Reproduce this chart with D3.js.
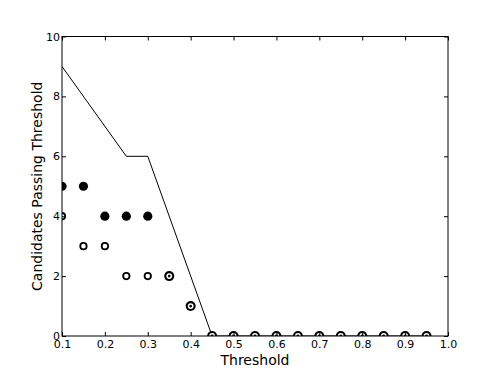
<!DOCTYPE html>
<html><head><meta charset="utf-8">
<script src="https://cdn.jsdelivr.net/npm/d3@7/dist/d3.min.js"></script>
<style>body{margin:0;background:#fff}svg{display:block}text{font-family:"DejaVu Sans",sans-serif}</style>
</head><body><svg id="c" width="498" height="374"></svg>
<script>
const thresholds = [0.1,0.15,0.2,0.25,0.3,0.35,0.4,0.45,0.5,0.55,0.6,0.65,0.7,0.75,0.8,0.85,0.9,0.95];
const filledValues = [5,5,4,4,4,2,1,0,0,0,0,0,0,0,0,0,0,0];
const openValues   = [4,3,3,2,2,2,1,0,0,0,0,0,0,0,0,0,0,0];
const lineX = [0.1,0.25,0.3,0.45,0.95];
const lineY = [9,6,6,0,0];
const xTicks = [0.1,0.2,0.3,0.4,0.5,0.6,0.7,0.8,0.9,1.0];
const yTicks = [0,2,4,6,8,10];

const L=62,R=448,T=36.5,B=336;
const svg=d3.select("#c");
const x=d3.scaleLinear().domain([0.1,1.0]).range([L,R]);
const y=d3.scaleLinear().domain([0,10]).range([B,T]);

svg.append("clipPath").attr("id","clip").append("rect").attr("x",L).attr("y",T).attr("width",R-L).attr("height",B-T);
const g=svg.append("g").attr("clip-path","url(#clip)");

const line=d3.line().x(d=>x(d[0])).y(d=>y(d[1]));
g.append("path").datum(lineX.map((v,i)=>[v,lineY[i]])).attr("d",line).attr("fill","none").attr("stroke","#000").attr("stroke-width",1);

const pts=thresholds.map((t,i)=>({t,a:filledValues[i],b:openValues[i]}));
g.selectAll(".f").data(pts).enter().append("circle").attr("cx",d=>x(d.t)).attr("cy",d=>y(d.a)).attr("r",d=>d.a===d.b?5:4.6).attr("fill","#000");
g.selectAll(".o").data(pts.filter(d=>d.a!==d.b)).enter().append("circle").attr("cx",d=>x(d.t)).attr("cy",d=>y(d.b)).attr("r",3.2).attr("fill","#fff").attr("stroke","#000").attr("stroke-width",1.8);
g.selectAll(".bw").data(pts.filter(d=>d.a===d.b)).enter().append("circle").attr("cx",d=>x(d.t)).attr("cy",d=>y(d.b)).attr("r",2.9).attr("fill","#fff");
g.selectAll(".bd").data(pts.filter(d=>d.a===d.b)).enter().append("circle").attr("cx",d=>x(d.t)).attr("cy",d=>y(d.b)).attr("r",1.4).attr("fill","#000");

svg.append("rect").attr("x",L).attr("y",T).attr("width",R-L).attr("height",B-T).attr("fill","none").attr("stroke","#000").attr("stroke-width",1);

const tl=4;
const xb=svg.append("g").attr("transform",`translate(0,${B})`).call(d3.axisBottom(x).tickValues(xTicks).tickSizeInner(-tl).tickSizeOuter(0).tickPadding(4).tickFormat(d3.format(".1f")));
const xt=svg.append("g").attr("transform",`translate(0,${T})`).call(d3.axisTop(x).tickValues(xTicks).tickSizeInner(-tl).tickSizeOuter(0).tickFormat(""));
const yl=svg.append("g").attr("transform",`translate(${L},0)`).call(d3.axisLeft(y).tickValues(yTicks).tickSizeInner(-tl).tickSizeOuter(0).tickPadding(2).tickFormat(d3.format("d")));
const yr=svg.append("g").attr("transform",`translate(${R},0)`).call(d3.axisRight(y).tickValues(yTicks).tickSizeInner(-tl).tickSizeOuter(0).tickFormat(""));
[xb,xt,yl,yr].forEach(a=>{a.select(".domain").remove();a.selectAll("line").attr("stroke","#000");a.selectAll("text").attr("font-family","DejaVu Sans").attr("font-size",11).attr("fill","#000");});

svg.append("text").attr("x",(L+R)/2).attr("y",365).attr("text-anchor","middle").attr("font-size",14).text("Threshold");
svg.append("text").attr("transform",`translate(42,${(T+B)/2}) rotate(-90)`).attr("text-anchor","middle").attr("font-size",14).text("Candidates Passing Threshold");
</script></body></html>
